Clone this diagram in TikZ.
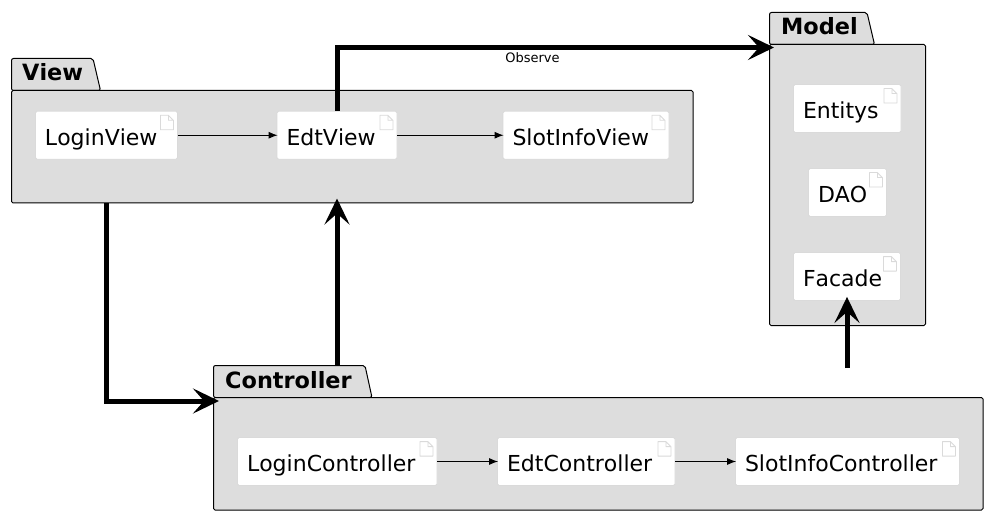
\documentclass[tikz,border=0pt]{standalone}
\usepackage{fontspec}
\setmainfont[Kerning=Off]{DejaVu Sans}
\usetikzlibrary{arrows.meta}

\definecolor{pkggray}{HTML}{DDDDDD}
\definecolor{iconline}{HTML}{DADADA}

\tikzset{
	pkgbody/.style={draw=black, line width=1pt, fill=pkggray, rounded corners=1.5pt, inner sep=0pt},
	pkgtab/.style={draw=black, line width=1pt, fill=pkggray, rounded corners=2pt},
	pkgtitle/.style={anchor=base west, inner sep=0pt, font=\fontsize{22.4}{26}\selectfont\bfseries},
	docbox/.style={draw=iconline, line width=.8pt, fill=white, rounded corners=1.5pt, inner xsep=9.5pt, inner ysep=0pt,
		minimum height=48pt, text width=#1, align=left, text height=20pt, text depth=0pt, font=\fontsize{22}{26}\selectfont},
	thinarrow/.style={line width=.9pt, shorten >=-1pt, -{Latex[length=9pt,width=7pt]}},
	bigarrow/.style={line width=5pt, -{Stealth[length=26pt,width=25pt,inset=11pt]}}
}

\begin{document}
\begin{tikzpicture}[x=1pt, y=-1pt]
	\useasboundingbox (0,0) rectangle (989,516);

	% packages
	\draw[pkgtab] (11.5,90.5) -- (11.5,58.5) -- (93,58.5) -- (100.5,90.5) -- cycle;
	\node[pkgbody, minimum width=681.5pt, minimum height=112.5pt] (view) at (352.25,146.75) {};
	\node[pkgtitle] (viewtitle) at (22,81) {View};

	\draw[pkgtab] (769.5,44.5) -- (769.5,12.5) -- (867,12.5) -- (874.5,44.5) -- cycle;
	\node[pkgbody, minimum width=156pt, minimum height=281pt] (model) at (847.5,185) {};
	\node[pkgtitle] (modeltitle) at (781,35) {Model};

	\draw[pkgtab] (213.5,397.5) -- (213.5,365.5) -- (365,365.5) -- (372,397.5) -- cycle;
	\node[pkgbody, minimum width=769.5pt, minimum height=112.5pt] (controller) at (598.25,453.75) {};
	\node[pkgtitle] (controllertitle) at (225,388) {Controller};

	% artifacts
	\node[docbox=123pt] (loginview) at (106.5,135.25) {LoginView};
	\node[docbox=101pt] (edtview) at (337,135.25) {EdtView};
	\node[docbox=147pt] (slotinfoview) at (586,135.25) {SlotInfoView};

	\node[docbox=88.5pt] (entitys) at (847.25,108.5) {Entitys};
	\node[docbox=59pt] (dao) at (847.5,192.5) {DAO};
	\node[docbox=88pt] (facade) at (847,276.5) {Facade};

	\node[docbox=180.5pt] (logincontroller) at (337.25,461.5) {LoginController};
	\node[docbox=158.5pt] (edtcontroller) at (586.25,461.5) {EdtController};
	\node[docbox=205pt] (slotinfocontroller) at (847.5,461.5) {SlotInfoController};

	% page icons
	\foreach \artifact in {loginview, edtview, slotinfoview, entitys, dao, facade, logincontroller, edtcontroller, slotinfocontroller} {
		\draw[iconline, line width=.8pt, fill=white, line join=round]
			([shift={(-17.5,4.5)}]\artifact.north east) -- ++(8,0) -- ++(5,5) -- ++(0,9.5) -- ++(-13,0) -- cycle
			([shift={(-9.5,4.5)}]\artifact.north east) -- ++(0,5) -- ++(5,0);
	}

	% free ends
	\coordinate (modeltip) at (774,47.5);
	\coordinate (controllertip) at (219,401);
	\coordinate (controllertop) at (847,368);

	% small arrows
	\draw[thinarrow] (loginview) -- (edtview);
	\draw[thinarrow] (edtview) -- (slotinfoview);
	\draw[thinarrow] (logincontroller) -- (edtcontroller);
	\draw[thinarrow] (edtcontroller) -- (slotinfocontroller);

	% big arrows
	\draw[bigarrow] (edtview.north) |- (modeltip);
	\draw[bigarrow] (loginview.south |- view.south) |- (controllertip);
	\draw[bigarrow, shorten >=-5pt] (edtview.south |- controller.north) ++(0,-32) -- (edtview.south |- view.south);
	\draw[bigarrow, shorten >=-4pt] (controllertop) -- (facade.south);

	\node[inner sep=0pt, font=\fontsize{13}{15}\selectfont] (observelabel) at (532.5,58) {Observe};
\end{tikzpicture}
\end{document}
